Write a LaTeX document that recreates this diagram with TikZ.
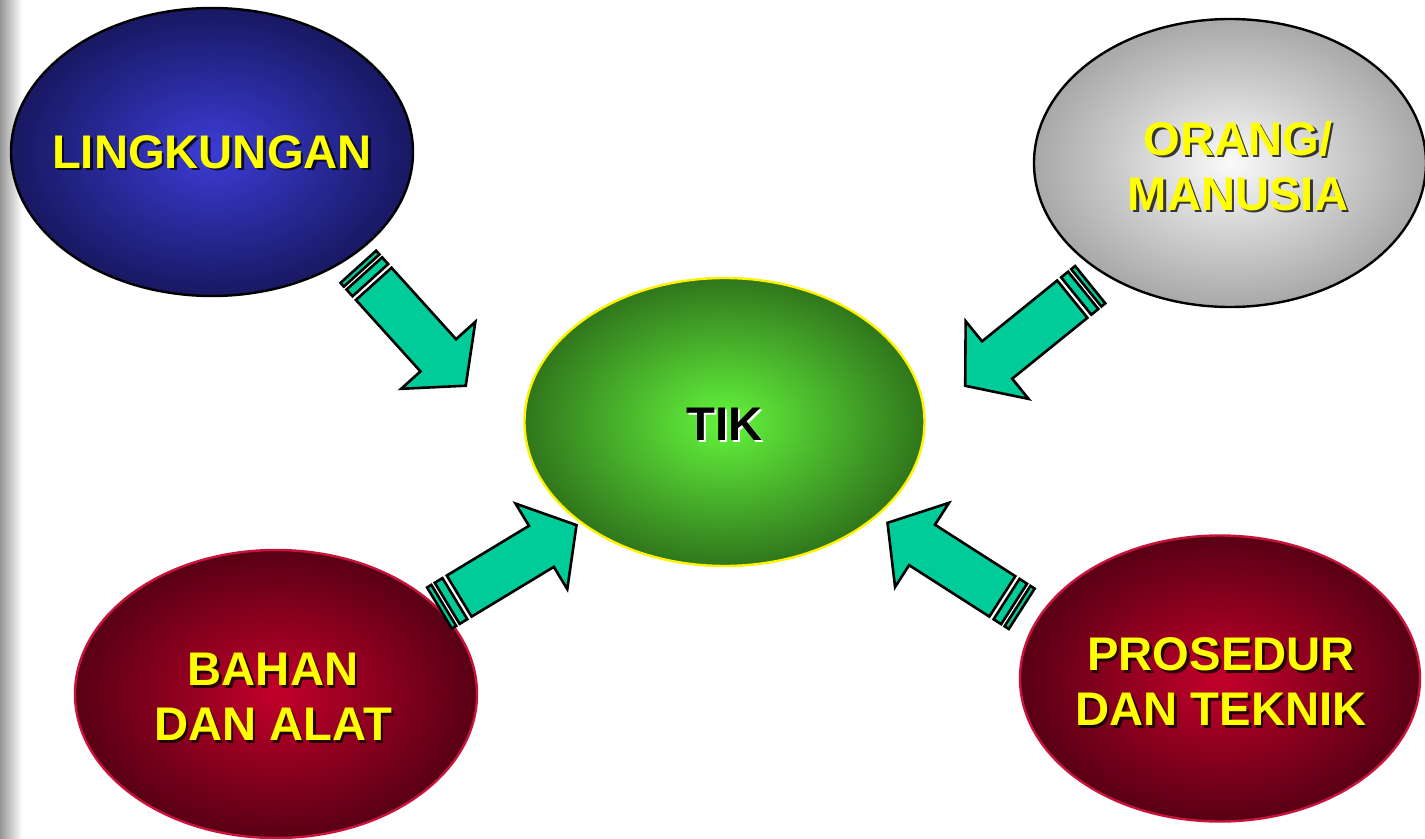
\documentclass[tikz,border=0pt]{standalone}
\usepackage{fontspec}
\setmainfont{Liberation Sans}
\usetikzlibrary{shapes.geometric,calc}
\definecolor{arrowfill}{RGB}{0,204,153}
\definecolor{bluein}{RGB}{60,60,215}
\definecolor{blueout}{RGB}{24,24,98}
\definecolor{grayin}{RGB}{250,250,250}
\definecolor{grayout}{RGB}{168,168,168}
\definecolor{greenin}{RGB}{100,245,60}
\definecolor{greenout}{RGB}{48,118,28}
\definecolor{redin}{RGB}{195,0,42}
\definecolor{redout}{RGB}{88,0,20}
\definecolor{redline}{RGB}{200,20,60}
\definecolor{txtyellow}{RGB}{255,255,0}
\definecolor{stripgray}{RGB}{150,150,150}
\tikzset{
  ball/.style={ellipse, inner sep=0pt, minimum width=200pt, minimum height=144pt, line width=1.2pt},
  lbl/.style={font=\bfseries\fontsize{23.6}{27.5}\selectfont, align=center, text=txtyellow, inner sep=0pt},
  lblshadow/.style={lbl, text=black, opacity=0.75},
  arrowpart/.style={fill=arrowfill, draw=black, line width=1.3pt, line join=miter},
}
\makeatletter
\newcommand\stripedarrow[2]{%
  \pgfpointdiff{\pgfpointanchor{#1}{center}}{\pgfpointanchor{#2}{center}}%
  \pgfmathveclen{\the\pgf@x}{\the\pgf@y}\let\arlen\pgfmathresult
  \pgfmathanglebetweenpoints{\pgfpointanchor{#1}{center}}{\pgfpointanchor{#2}{center}}\let\arang\pgfmathresult
  \pgfmathsetmacro\arneck{\arlen-20.5}%
  \begin{scope}[shift={(#1)}, rotate=\arang, x=1pt, y=1pt]
    \draw[arrowpart] (0,-12) rectangle (2.5,12);
    \draw[arrowpart] (4.5,-12) rectangle (9,12);
    \draw[arrowpart] (11.5,-12) -- (\arneck,-12) -- (\arneck,-25) -- (\arlen,0)
      -- (\arneck,25) -- (\arneck,12) -- (11.5,12) -- cycle;
  \end{scope}}
\makeatother

\begin{document}
\begin{tikzpicture}[x=0.5pt, y=-0.5pt]
\useasboundingbox (0,0) rectangle (1425,839);
\clip (0,0) rectangle (1425,839);
\fill[white] (0,0) rectangle (1425,839);
\shade[left color=stripgray, right color=white] (0,0) rectangle (22,839);

% ellipses
\node[ball, draw=black, inner color=bluein, outer color=blueout, minimum width=201pt] (lk) at (212,152) {};
\node[ball, draw=black, inner color=grayin, outer color=grayout, minimum width=196pt] (or) at (1230,163) {};
\node[ball, draw=yellow, inner color=greenin, outer color=greenout] (tik) at (724.5,422) {};
\node[ball, draw=redline, inner color=redin, outer color=redout, minimum width=201pt] (ba) at (276,694) {};
\node[ball, draw=redline, inner color=redin, outer color=redout, minimum height=143pt] (pr) at (1220,678.5) {};

% labels
\node[lblshadow] (lks) at ([shift={(2.5,2.5)}]212,152) {LINGKUNGAN};
\node[lbl] (lkt) at (212,152) {LINGKUNGAN};
\node[lblshadow] (ors) at ([shift={(2.5,2.5)}]1238,166) {ORANG/\\MANUSIA};
\node[lbl] (ort) at (1238,166) {ORANG/\\MANUSIA};
\node[lblshadow] (bas) at ([shift={(2.5,2.5)}]273,697) {BAHAN\\DAN ALAT};
\node[lbl] (bat) at (273,697) {BAHAN\\DAN ALAT};
\node[lblshadow] (prs) at ([shift={(2.5,2.5)}]1221,682) {PROSEDUR\\DAN TEKNIK};
\node[lbl] (prt) at (1221,682) {PROSEDUR\\DAN TEKNIK};
\node[lbl, text=white] (tiks) at ([shift={(2,2)}]724.5,424) {TIK};
\node[lbl, text=black] (tikt) at (724.5,424) {TIK};

% arrow end points
\coordinate (a1s) at (358.3,266.8);
\coordinate (a1e) at (466,386);
\coordinate (a2s) at (1090.2,284.7);
\coordinate (a2e) at (965,386);
\coordinate (a3s) at (439.5,608);
\coordinate (a3e) at (576.7,525);
\coordinate (a4s) at (1021.7,608.8);
\coordinate (a4e) at (887.3,522.7);

\stripedarrow{a1s}{a1e}
\stripedarrow{a2s}{a2e}
\stripedarrow{a3s}{a3e}
\stripedarrow{a4s}{a4e}
\end{tikzpicture}
\end{document}
